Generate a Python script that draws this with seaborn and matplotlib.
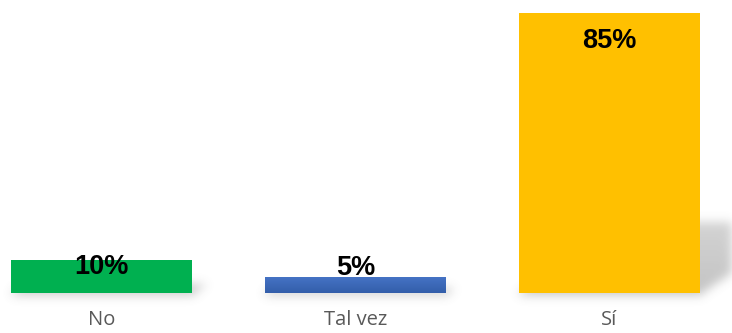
import numpy as np
import pandas as pd
import matplotlib
matplotlib.use("Agg")
import matplotlib.pyplot as plt
import seaborn as sns

# Survey answers and their share of respondents (%)
categories = ["No", "Tal vez", "Sí"]
values = [10, 5, 85]
bar_colors = ["#00B050", "#4472C4", "#FFC000"]
# vertical offset of each value label from the bar top, in pixels
label_dy_px = [-6.5, 9, -28.5]

sns.set_theme(style="white")
plt.rcParams["font.family"] = ["Liberation Sans", "DejaVu Sans"]

W, H, DPI = 732, 333, 100
fig = plt.figure(figsize=(W / DPI, H / DPI), dpi=DPI, facecolor="white")

# background layer for the soft floor shadows
bg = fig.add_axes([0, 0, 1, 1], zorder=0)
bg.set_axis_off()

ax = fig.add_axes([0, 40 / H, 1, 1 - 40 / H], zorder=1)
ax.set_facecolor("none")

df = pd.DataFrame({"answer": categories, "pct": values})
sns.barplot(data=df, x="answer", y="pct", hue="answer", palette=bar_colors,
            order=categories, width=181 / 254, saturation=1, legend=False,
            linewidth=0, ax=ax)

ax.set_xlim(-101.5 / 254, (W - 101.5) / 254)
ax.set_ylim(0, 85 * 293 / 280)
ax.set_xlabel("")
ax.set_ylabel("")
ax.set_yticks([])
for s in ax.spines.values():
    s.set_visible(False)
ax.tick_params(axis="x", length=0, pad=12)
for lbl in ax.get_xticklabels():
    lbl.set_fontfamily(["Open Sans", "DejaVu Sans"])
    lbl.set_fontsize(14.5)
    lbl.set_color("#595959")

# subtle top-to-bottom shading on the blue bar
blue = ax.patches[1]
grad = np.linspace(0, 1, 64)[:, None]
top_c = np.array([0x46, 0x74, 0xC6]) / 255
bot_c = np.array([0x33, 0x5E, 0xAA]) / 255
shade = top_c[None, None, :] * (1 - grad[..., None]) + bot_c[None, None, :] * grad[..., None]
im = ax.imshow(shade, extent=(blue.get_x(), blue.get_x() + blue.get_width(), 0, blue.get_height()),
               aspect="auto", origin="upper", zorder=blue.get_zorder() + 0.1,
               interpolation="bilinear")
im.set_clip_path(blue)
ax.set_xlim(-101.5 / 254, (W - 101.5) / 254)
ax.set_ylim(0, 85 * 293 / 280)

# value labels near the top of each bar
for patch, v, dy in zip(ax.patches, values, label_dy_px):
    cx = patch.get_x() + patch.get_width() / 2
    ax.annotate(f"{v}%", xy=(cx, patch.get_height()), xytext=(0, dy * 72 / DPI),
                textcoords="offset points", ha="center", va="center",
                fontsize=19.5, fontweight="bold", color="black", zorder=5)

# perspective shadows cast by the bars, built in pixel space and blurred
fig.canvas.draw()
alpha = np.zeros((H, W))
yy, xx = np.mgrid[0:H, 0:W]
yy_up = H - 1 - yy  # display coords, origin at bottom
for patch in ax.patches:
    (x0, y0), (x1, y1) = ax.transData.transform(
        [(patch.get_x(), 0), (patch.get_x() + patch.get_width(), patch.get_height())])
    h = (y1 - y0) * 0.25
    k = 1.5
    rise = yy_up - y0
    inside = (rise >= -2) & (rise <= h)
    shift = np.clip(rise, 0, None) * k
    inside &= (xx >= x0 + shift) & (xx <= x1 + shift + 2)
    t = np.clip(rise / max(h, 1), 0, 1)
    alpha = np.maximum(alpha, np.where(inside, 0.42 * (1 - 0.25 * t), 0))

sigma = 5.0
r = np.arange(-15, 16)
kern = np.exp(-r ** 2 / (2 * sigma ** 2))
kern /= kern.sum()
alpha = np.apply_along_axis(lambda m: np.convolve(m, kern, mode="same"), 1, alpha)
alpha = np.apply_along_axis(lambda m: np.convolve(m, kern, mode="same"), 0, alpha)

rgba = np.zeros((H, W, 4))
rgba[..., :3] = 0.45
rgba[..., 3] = alpha
bg.imshow(rgba, extent=(0, 1, 0, 1), aspect="auto", interpolation="bilinear")
bg.set_xlim(0, 1)
bg.set_ylim(0, 1)

fig.savefig("out.png", dpi=DPI, facecolor="white")
